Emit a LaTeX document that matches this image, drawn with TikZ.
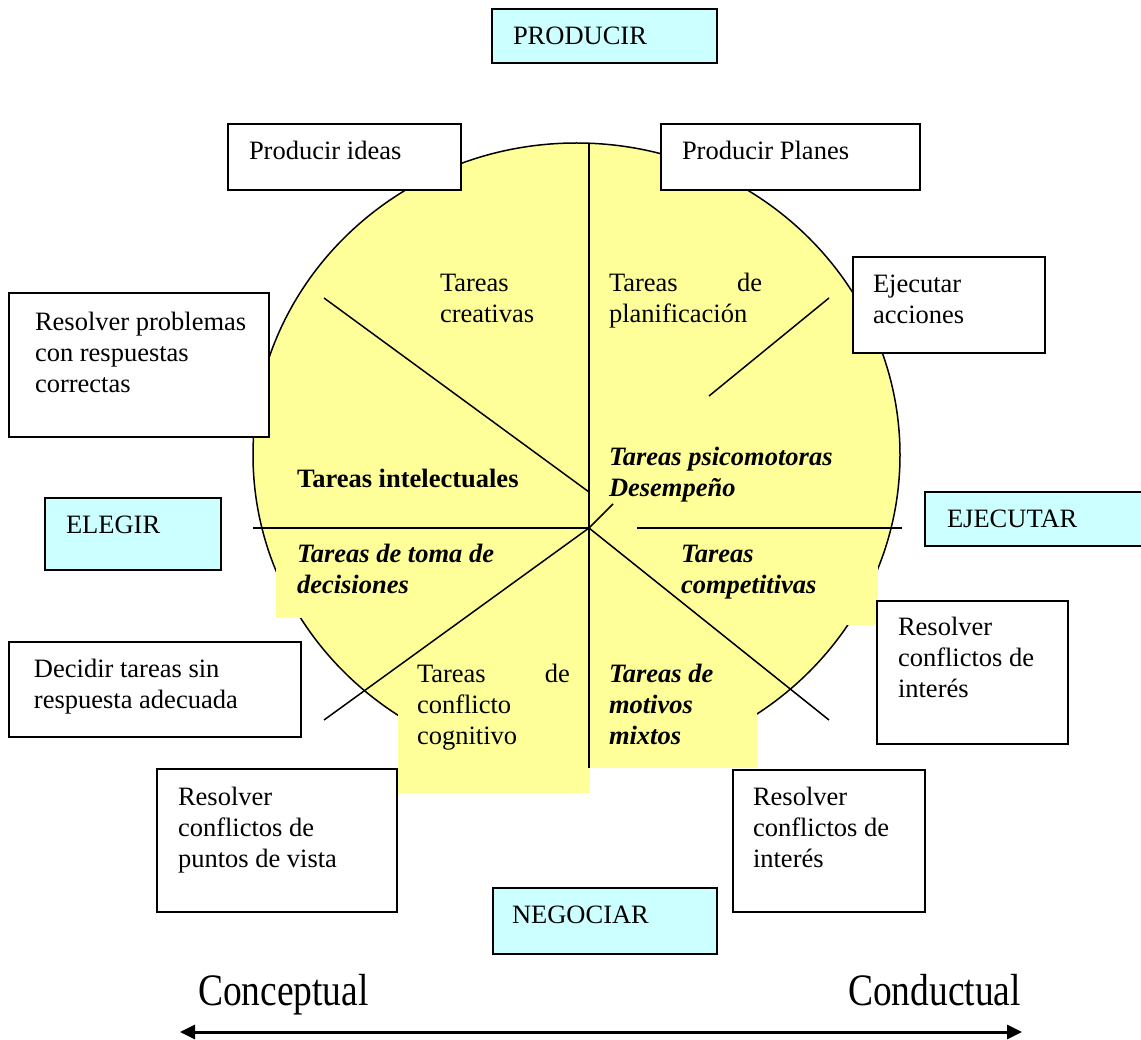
\documentclass[tikz,border=0pt]{standalone}
\usepackage{fontspec}
\setmainfont{Liberation Serif}
\usetikzlibrary{arrows.meta}
\definecolor{paleYellow}{HTML}{FFFF99}
\definecolor{paleCyan}{HTML}{CCFFFF}
\tikzset{
  box/.style={draw, line width=1.5pt, fill=white, anchor=north west, inner sep=0pt, outer sep=0pt},
  cyanbox/.style={box, fill=paleCyan},
  txt/.style={anchor=base west, inner sep=0pt, outer sep=0pt, font=\fontsize{26.5}{31}\selectfont},
  bigtxt/.style={anchor=base west, inner sep=0pt, outer sep=0pt, font=\fontsize{37.5}{40}\selectfont},
  seg/.style={line width=1.5pt},
}
\newcommand{\lines}[2]{\parbox[t]{#1pt}{\raggedright #2}}
\newcommand{\jlines}[2]{\parbox[t]{#1pt}{#2}}
\begin{document}
\begin{tikzpicture}[x=1pt, y=-1pt]
\useasboundingbox (0,0) rectangle (1141,1040);
\begin{scope}
\clip (0,0) rectangle (1141,1040);

% the disc of task types and its yellow text panels
\fill[paleYellow, draw=black, line width=1.5pt] (576.5,455) ellipse [x radius=323.5pt, y radius=312pt];
\fill[paleYellow] (276,540) rectangle (560,618);
\fill[paleYellow] (398,650) rectangle (590,793);
\fill[paleYellow] (590,650) rectangle (757,768);
\fill[paleYellow] (670,540) rectangle (878,625);

% dividing lines
\coordinate (O) at (589,528);
\coordinate (vTop) at (589,143);
\coordinate (vBot) at (589,768);
\coordinate (hL) at (253,528);
\coordinate (hR1) at (637,528);
\coordinate (hR2) at (902,528);
\coordinate (dUL1) at (324,298);
\coordinate (dUL2) at (589,492);
\coordinate (dUR1) at (829,298);
\coordinate (dUR2) at (709,396);
\coordinate (dC) at (613,504);
\coordinate (dLL) at (324,720);
\coordinate (dLR) at (829,720);
\draw[seg] (vTop) -- (vBot);
\draw[seg] (hL) -- (O);
\draw[seg] (hR1) -- (hR2);
\draw[seg] (dUL1) -- (dUL2);
\draw[seg] (dUR1) -- (dUR2);
\draw[seg] (O) -- (dC);
\draw[seg] (O) -- (dLL);
\draw[seg] (O) -- (dLR);

% outer boxes
\node[cyanbox, minimum width=225pt, minimum height=54pt] (bProd) at (492,9) {};
\node[box, minimum width=233pt, minimum height=66pt] (bIdeas) at (228,124) {};
\node[box, minimum width=259pt, minimum height=66pt] (bPlanes) at (661,124) {};
\node[box, minimum width=192pt, minimum height=96pt] (bEjec) at (853,257) {};
\node[box, minimum width=260pt, minimum height=144pt] (bProbl) at (9,293) {};
\node[cyanbox, minimum width=176pt, minimum height=72pt] (bElegir) at (45,498) {};
\node[cyanbox, minimum width=240pt, minimum height=54pt] (bEjecutar) at (925,492) {};
\node[box, minimum width=191pt, minimum height=143pt] (bInteresA) at (877,601) {};
\node[box, minimum width=292pt, minimum height=95pt] (bDecidir) at (9,642) {};
\node[box, minimum width=240pt, minimum height=143pt] (bPuntos) at (157,769) {};
\node[box, minimum width=192pt, minimum height=142pt] (bInteresB) at (733,770) {};
\node[cyanbox, minimum width=224pt, minimum height=66pt] (bNeg) at (493,888) {};

% box labels
\node[txt] (tProd) at (513,45) {PRODUCIR};
\node[txt] (tIdeas) at (249,160) {Producir ideas};
\node[txt] (tPlanes) at (682,160) {Producir Planes};
\node[txt] (tEjec) at (873,293) {\lines{160}{Ejecutar\\acciones}};
\node[txt] (tProbl) at (35,331) {\lines{230}{Resolver problemas\\con respuestas\\correctas}};
\node[txt] (tElegir) at (66,533) {ELEGIR};
\node[txt] (tEjecutar) at (947,527) {EJECUTAR};
\node[txt] (tInteresA) at (898,635) {\lines{160}{Resolver\\conflictos de\\interés}};
\node[txt] (tDecidir) at (34,677) {\lines{260}{Decidir tareas sin\\respuesta adecuada}};
\node[txt] (tPuntos) at (178,805) {\lines{210}{Resolver\\conflictos de\\puntos de vista}};
\node[txt] (tInteresB) at (753,805) {\lines{160}{Resolver\\conflictos de\\interés}};
\node[txt] (tNeg) at (512,923) {NEGOCIAR};

% sector labels
\node[txt] (tCreat) at (440,292) {\lines{140}{Tareas\\creativas}};
\node[txt] (tPlan) at (609,292) {\jlines{153}{Tareas\hfill de\\planificación}};
\node[txt, font=\fontsize{26.5}{31}\selectfont\bfseries] (tIntel) at (297,488) {Tareas intelectuales};
\node[txt, font=\fontsize{26.5}{31}\selectfont\bfseries\itshape] (tPsico) at (609,466) {\lines{280}{Tareas psicomotoras\\Desempeño}};
\node[txt, font=\fontsize{26.5}{31}\selectfont\bfseries\itshape] (tDecis) at (297,562) {\lines{260}{Tareas de toma de\\decisiones}};
\node[txt, font=\fontsize{26.5}{31}\selectfont\bfseries\itshape] (tComp) at (681,562) {\lines{190}{Tareas\\competitivas}};
\node[txt] (tCogn) at (417,682) {\jlines{153}{Tareas\hfill de\\conflicto\\cognitivo}};
\node[txt, font=\fontsize{26.5}{31}\selectfont\bfseries\itshape] (tMix) at (609,682) {\lines{140}{Tareas de\\motivos\\mixtos}};

% the conceptual--behavioural axis
\node[bigtxt] (tConcep) at (198,1005) {\scalebox{1}[1.2]{Conceptual}};
\node[bigtxt] (tConduc) at (848,1005) {\scalebox{1}[1.2]{Conductual}};
\coordinate (axL) at (180,1032);
\coordinate (axR) at (1022,1032);
\draw[line width=3pt, {Triangle[length=15pt, width=14pt]}-{Triangle[length=15pt, width=14pt]}] (axL) -- (axR);
\end{scope}
\end{tikzpicture}
\end{document}
